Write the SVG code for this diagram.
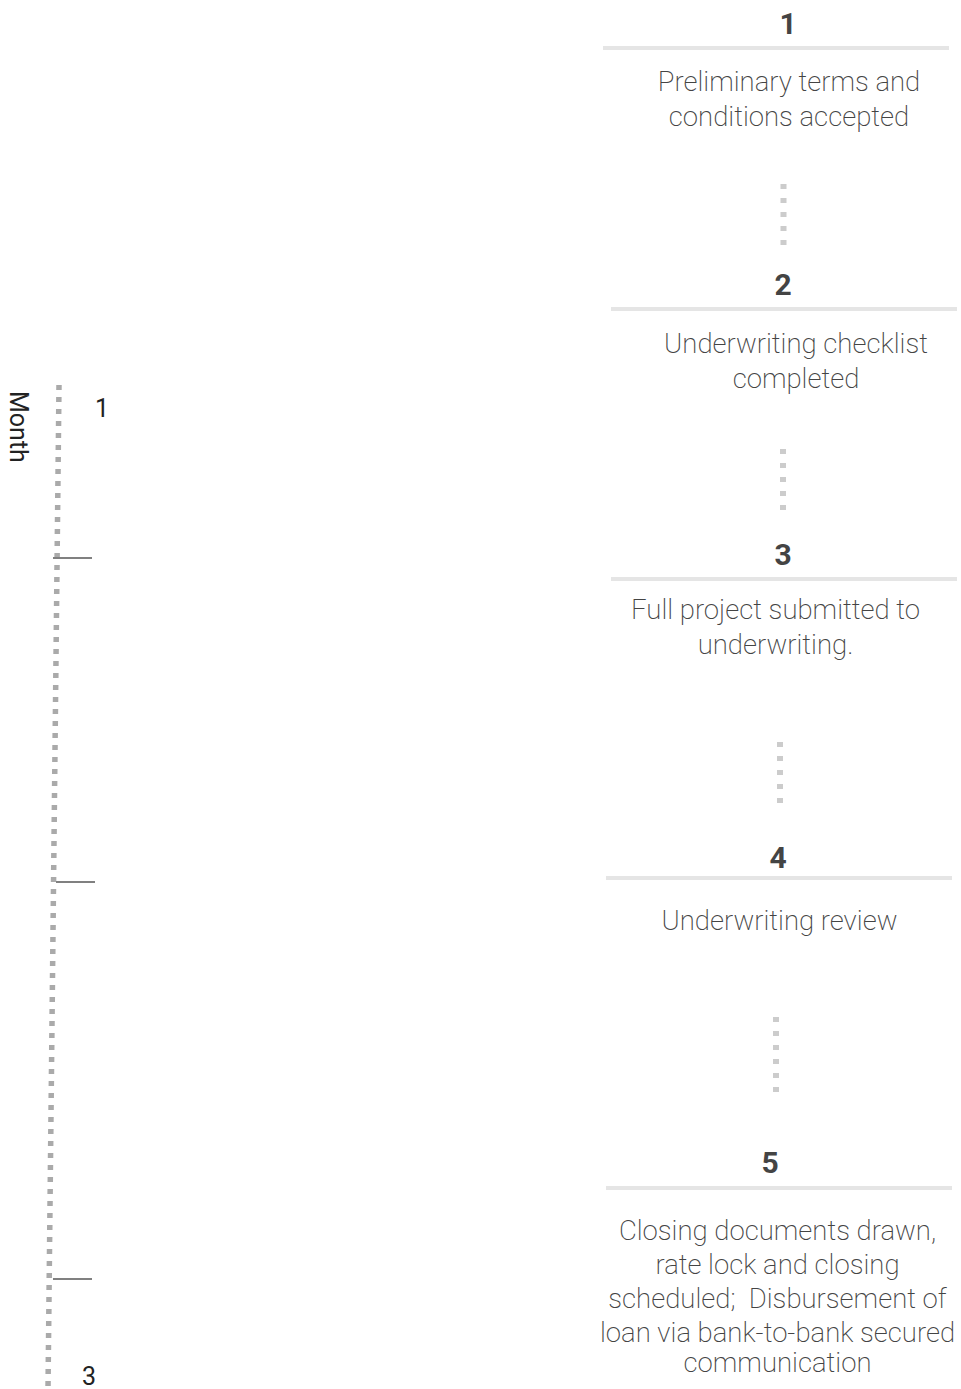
<svg xmlns="http://www.w3.org/2000/svg" width="961" height="1389" viewBox="0 0 961 1389">
<style>
.num{font-family:Roboto,"Liberation Sans",sans-serif;font-weight:700;font-size:30px;fill:#444;text-anchor:middle}
.body{font-family:Roboto,"Liberation Sans",sans-serif;font-weight:200;font-size:27.5px;fill:#444;text-anchor:middle}
.rule{stroke:#e5e5e5;stroke-width:4}
.conn{stroke:#cccccc;stroke-width:6;stroke-dasharray:5 9;fill:none}
.axis{stroke:#aaaaaa;stroke-width:5.5;stroke-dasharray:5 7;fill:none}
.tick{stroke:#808080;stroke-width:2}
.lbl{font-family:Roboto,"Liberation Sans",sans-serif;font-weight:400;font-size:25px;fill:#222}
</style>
<rect width="961" height="1389" fill="#fff"/>
<g id="axis">
<line class="axis" x1="59" y1="385" x2="48" y2="1389"/>
<line class="tick" x1="53" y1="558" x2="92" y2="558"/>
<line class="tick" x1="56" y1="882" x2="95" y2="882"/>
<line class="tick" x1="53" y1="1279" x2="92" y2="1279"/>
<text class="lbl" transform="translate(10,391) rotate(90)">Month</text>
<text class="lbl" x="102" y="417" text-anchor="middle">1</text>
<text class="lbl" x="89" y="1385" text-anchor="middle">3</text>
</g>
<g id="connectors">
<line class="conn" x1="783.5" y1="184" x2="783.5" y2="247"/>
<line class="conn" x1="783" y1="449" x2="783" y2="515"/>
<line class="conn" x1="780" y1="742" x2="780" y2="803"/>
<line class="conn" x1="776" y1="1017" x2="776" y2="1093"/>
</g>
<g id="node1">
<text class="num" x="788" y="34">1</text>
<line class="rule" x1="603" y1="48" x2="949" y2="48"/>
<text class="body" x="789" y="91">Preliminary terms and</text>
<text class="body" x="789" y="126">conditions accepted</text>
</g>
<g id="node2">
<text class="num" x="783" y="295">2</text>
<line class="rule" x1="611" y1="309" x2="957" y2="309"/>
<text class="body" x="796" y="353">Underwriting checklist</text>
<text class="body" x="796" y="388">completed</text>
</g>
<g id="node3">
<text class="num" x="783" y="565">3</text>
<line class="rule" x1="611" y1="579" x2="957" y2="579"/>
<text class="body" x="775.5" y="619">Full project submitted to</text>
<text class="body" x="775.5" y="654">underwriting.</text>
</g>
<g id="node4">
<text class="num" x="778" y="868">4</text>
<line class="rule" x1="606" y1="878" x2="952" y2="878"/>
<text class="body" x="779.5" y="930">Underwriting review</text>
</g>
<g id="node5">
<text class="num" x="770" y="1173">5</text>
<line class="rule" x1="606" y1="1188" x2="952" y2="1188"/>
<text class="body" x="777.5" y="1240">Closing documents drawn,</text>
<text class="body" x="777.5" y="1274">rate lock and closing</text>
<text class="body" x="777.5" y="1308" xml:space="preserve">scheduled;  Disbursement of</text>
<text class="body" x="777.5" y="1342">loan via bank-to-bank secured</text>
<text class="body" x="777.5" y="1372">communication</text>
</g>
</svg>
